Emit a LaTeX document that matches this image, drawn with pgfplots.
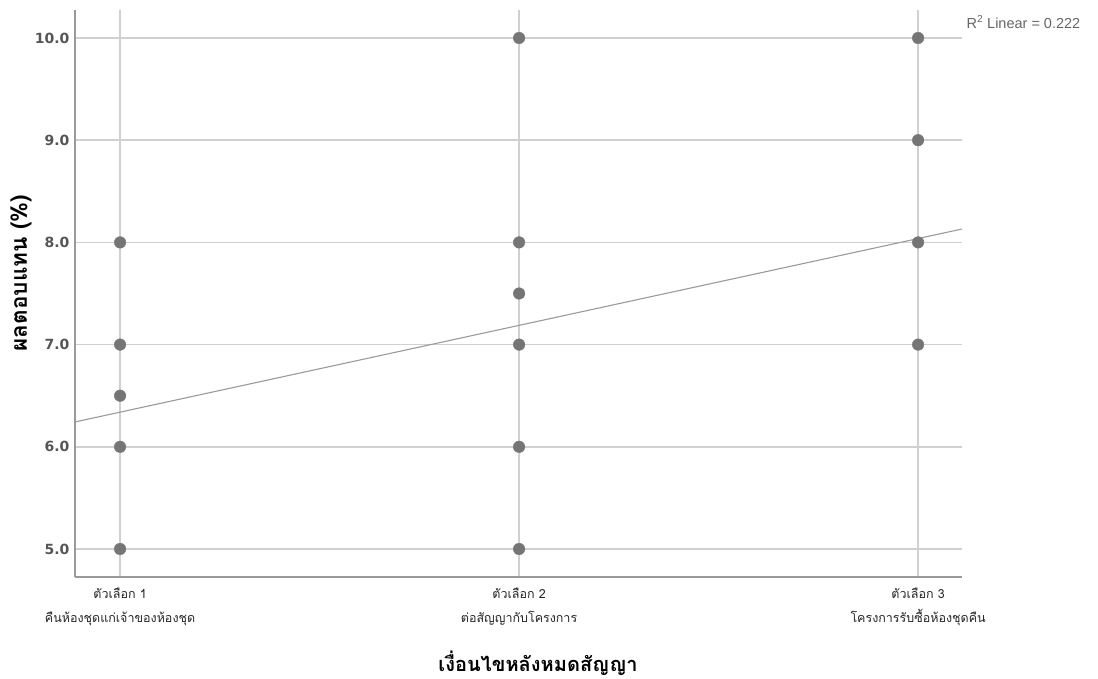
\documentclass[border=0pt]{standalone}
\usepackage{pgfplots}
\pgfplotsset{compat=1.18}
\usepackage{fontspec}
\setmainfont{DejaVu Sans}
\newfontfamily\thaifont[Script=Thai]{Loma}
\newfontfamily\libfont{Liberation Sans}
\definecolor{gridc}{HTML}{D0D0D0}
\definecolor{axc}{HTML}{9A9A9A}
\definecolor{markc}{HTML}{757575}
\definecolor{fitc}{HTML}{9A9A9A}
\definecolor{txtc}{HTML}{555555}
\begin{document}
\begin{tikzpicture}[x=1pt,y=1pt]
\useasboundingbox (0,0) rectangle (1098,678);
\begin{axis}[
  at={(75pt,101pt)}, anchor=south west,
  scale only axis, width=887pt, height=567pt,
  xmin=0.887, xmax=3.11, ymin=4.726, ymax=10.274,
  axis lines=left, axis line style={-, draw=axc, line width=1.5pt},
  xtick={1,2,3},
  xticklabels={{ตัวเลือก 1\\คืนห้องชุดแก่เจ้าของห้องชุด},{ตัวเลือก 2\\ต่อสัญญากับโครงการ},{ตัวเลือก 3\\โครงการรับซื้อห้องชุดคืน}},
  xticklabel style={font=\thaifont\fontsize{12.5}{24}\selectfont, align=center, text=black!85, yshift=-7pt},
  ytick={5,6,7,8,9,10},
  /pgf/number format/assume math mode=true,
  yticklabel={\pgfmathprintnumber[fixed,fixed zerofill,precision=1]{\tick}},
  yticklabel style={font=\bfseries\fontsize{14}{16}\selectfont, text=txtc, xshift=-2pt},
  major tick length=0pt,
  grid=major, major grid style={draw=gridc, line width=1.6pt},
  clip=false,
]
\addplot[no marks, draw=fitc, line width=1.1pt] coordinates {(0.887,6.243) (3.11,8.131)};
\addplot[only marks, mark=*, mark size=5.8pt, mark options={fill=markc, draw=markc}] coordinates {
(1,8) (1,7) (1,6.5) (1,6) (1,5)
(2,10) (2,8) (2,7.5) (2,7) (2,6) (2,5)
(3,10) (3,9) (3,8) (3,7)
};
\end{axis}
\node[anchor=west, font=\libfont\fontsize{14.5}{16}\selectfont, text=black!60] at (963,656) {R\textsuperscript{2} Linear = 0.222};
\node[font=\thaifont\bfseries\fontsize{20}{24}\selectfont, text=black] at (538,15) {เงื่อนไขหลังหมดสัญญา};
\node[rotate=90, font=\thaifont\bfseries\fontsize{22.5}{26}\selectfont, text=black] at (21,405) {ผลตอบแทน (\%)};
\end{tikzpicture}
\end{document}
